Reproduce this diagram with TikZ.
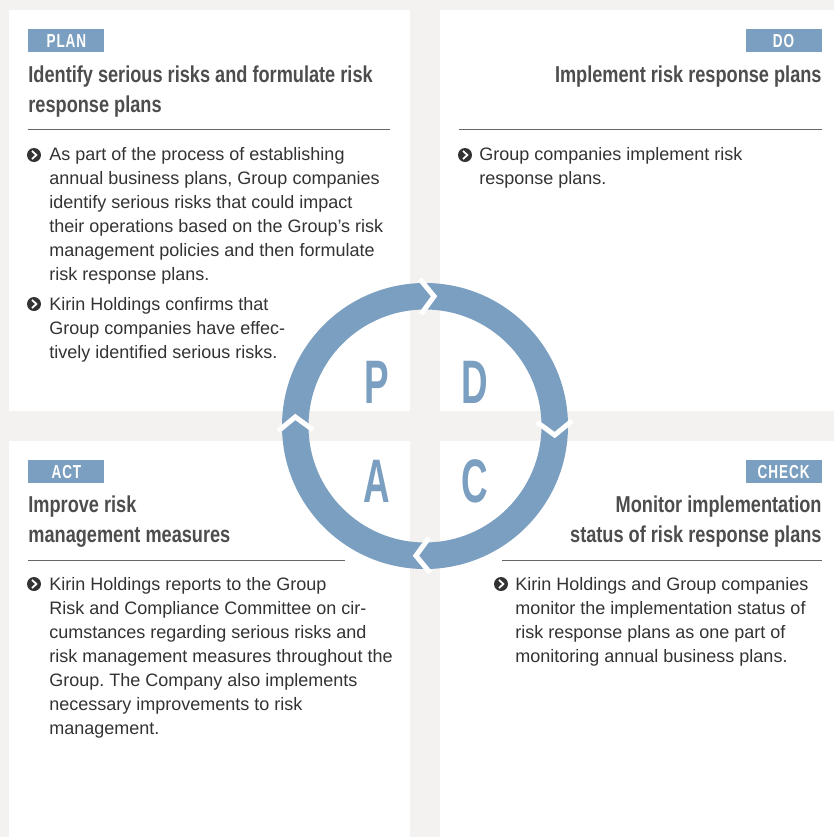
\documentclass[tikz,border=0pt]{standalone}
\usepackage{fontspec}
\setmainfont{Liberation Sans}
\newfontfamily\headfont[FakeStretch=0.79]{Liberation Sans}
\newfontfamily\tagfont[FakeStretch=0.72,LetterSpace=5]{Liberation Sans}
\newfontfamily\bigfont[FakeStretch=0.6]{Liberation Sans}
\usetikzlibrary{positioning,calc}
\frenchspacing

\definecolor{bgcol}{HTML}{F3F2F0}
\definecolor{ringblue}{HTML}{7B9FC0}
\definecolor{headcol}{HTML}{4D4D4D}
\definecolor{bodycol}{HTML}{333333}
\definecolor{rulecol}{HTML}{666666}

\tikzset{
  panel/.style={fill=white},
  tagbox/.style={fill=ringblue, text=white, inner sep=0pt, minimum width=38pt, minimum height=11.5pt,
    font=\tagfont\bfseries\fontsize{9.4}{9.4}\selectfont},
  headtext/.style={text=headcol, inner sep=0pt, font=\headfont\bfseries\fontsize{11.5}{15}\selectfont},
  bodytext/.style={text=bodycol, inner sep=0pt, font=\fontsize{9}{12}\selectfont},
  pdcaletter/.style={text=ringblue, inner sep=0pt, anchor=base, font=\bigfont\bfseries\fontsize{30.7}{30.7}\selectfont},
  rulebar/.style={draw=rulecol, line width=0.5pt},
  bulletmark/.pic={
    \fill[bodycol] (0,0) circle (3.5pt);
    \draw[white, line width=0.9pt] (-1pt,2pt) -- (1.2pt,0pt) -- (-1pt,-2pt);
  }
}

\begin{document}
\begin{tikzpicture}[x=0.5pt,y=0.5pt]
	\useasboundingbox (0,0) rectangle (834,-837);
	\fill[bgcol] (0,0) rectangle (834,-837);
	
	% panels
	\fill[panel] (9,-10) rectangle (410,-411);
	\fill[panel] (440,-10) rectangle (834,-411);
	\fill[panel] (9,-441) rectangle (410,-837);
	\fill[panel] (440,-441) rectangle (834,-837);
	
	% ring
	\coordinate (ctr) at (425,-426);
	\fill[ringblue, even odd rule] (ctr) circle (71.5pt) (ctr) circle (58.25pt);
	\foreach \a in {92,2,-88,-178}{
		\draw[white, line width=2.5pt, line join=miter]
			($(ctr)+(\a:147)$) -- ($(ctr)+(\a-6:130)$) -- ($(ctr)+(\a:112)$);
	}
	\node[pdcaletter] (letP) at (376.5,-403) {P};
	\node[pdcaletter] (letD) at (474.5,-403) {D};
	\node[pdcaletter] (letA) at (376.5,-502) {A};
	\node[pdcaletter] (letC) at (475,-502) {C};
	
	% plan (multi-line nodes sit on their last baseline)
	\node[tagbox, anchor=north west] (plantag) at (28,-29) {PLAN};
	\node[headtext, anchor=base west, align=left] (planhead) at (28,-112)
		{Identify serious risks and formulate risk\\response plans};
	\draw[rulebar] (28,-129) -- (390,-129);
	\pic at (34,-155) {bulletmark};
	\node[bodytext, anchor=base west, align=left] (planitem1) at (49,-280)
		{As part of the process of establishing\\annual business plans, Group companies\\identify serious risks that could impact\\their operations based on the Group’s risk\\management policies and then formulate\\risk response plans.};
	\pic at (34,-304) {bulletmark};
	\node[bodytext, anchor=base west, align=left] (planitem2) at (49,-358)
		{Kirin Holdings confirms that\\Group companies have effec-\\tively identified serious risks.};
	
	% do
	\node[tagbox, anchor=north east] (dotag) at (822,-29) {DO};
	\node[headtext, anchor=base east, align=right] (dohead) at (822,-82)
		{Implement risk response plans};
	\draw[rulebar] (459,-129) -- (822,-129);
	\pic at (465,-155) {bulletmark};
	\node[bodytext, anchor=base west, align=left] (doitem) at (479,-184)
		{Group companies implement risk\\response plans.};
	
	% act
	\node[tagbox, anchor=north west] (acttag) at (28,-460) {ACT};
	\node[headtext, anchor=base west, align=left] (acthead) at (28,-542)
		{Improve risk\\management measures};
	\draw[rulebar] (28,-560) -- (345,-560);
	\pic at (34,-584) {bulletmark};
	\node[bodytext, anchor=base west, align=left] (actitem) at (49,-734)
		{Kirin Holdings reports to the Group\\Risk and Compliance Committee on cir-\\cumstances regarding serious risks and\\risk management measures throughout the\\Group. The Company also implements\\necessary improvements to risk\\management.};
	
	% check
	\node[tagbox, anchor=north east] (checktag) at (822,-460) {CHECK};
	\node[headtext, anchor=base east, align=right] (checkhead) at (822,-542)
		{Monitor implementation\\status of risk response plans};
	\draw[rulebar] (502,-560) -- (822,-560);
	\pic at (501,-584) {bulletmark};
	\node[bodytext, anchor=base west, align=left] (checkitem) at (515,-662)
		{Kirin Holdings and Group companies\\monitor the implementation status of\\risk response plans as one part of\\monitoring annual business plans.};
\end{tikzpicture}
\end{document}
